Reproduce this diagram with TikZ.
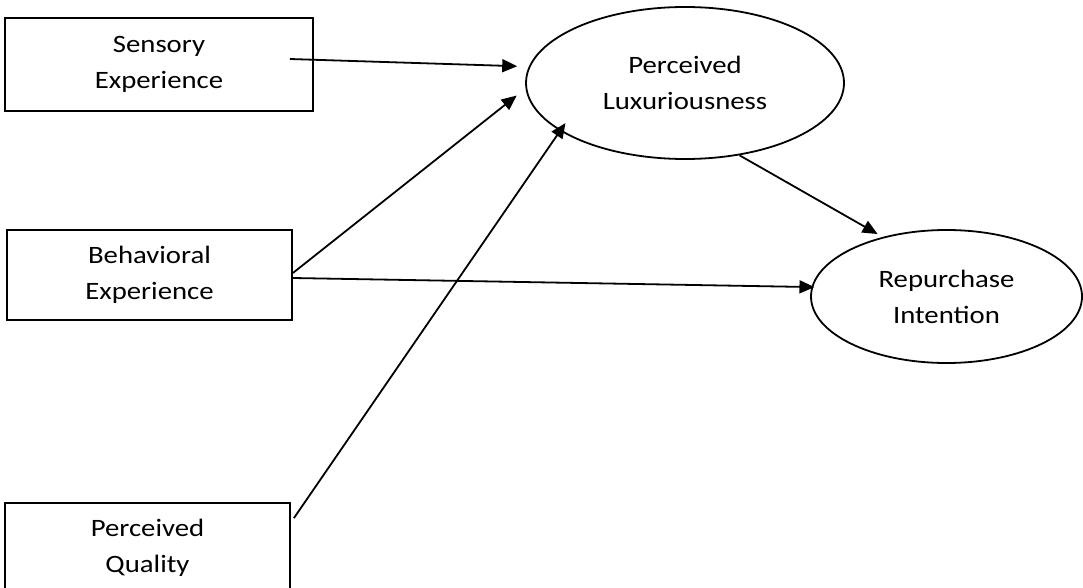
\documentclass[tikz,border=0pt]{standalone}
\usepackage{fontspec}
\setmainfont[FakeStretch=1.15]{Carlito}
\usepackage{tikz}
\usetikzlibrary{arrows.meta,shapes.geometric,calc}

\begin{document}
\begin{tikzpicture}[x=1pt,y=1pt,yscale=-1,xscale=1,
    ebox/.style={draw,line width=1.8pt,rectangle,inner sep=0pt,align=center,font=\fontsize{25}{36}\selectfont},
    eoval/.style={draw,line width=1.8pt,ellipse,inner sep=0pt,align=center,font=\fontsize{25}{36}\selectfont},
    link/.style={line width=1.8pt,-{Triangle[length=15pt,width=13pt]}}]
        \useasboundingbox (0,0) rectangle (1083,588);

        %Shape: Rectangle [sens]
        \node [ebox,minimum width=308,minimum height=93] (sens) at (159,64.5) {Sensory\\Experience};
        %Shape: Rectangle [behav]
        \node [ebox,minimum width=285,minimum height=90] (behav) at (149.5,275) {Behavioral\\Experience};
        %Shape: Rectangle [qual]
        \node [ebox,minimum width=285,minimum height=90] (qual) at (147.5,548) {Perceived\\Quality};

        %Shape: Ellipse [lux]
        \node [eoval,minimum width=318,minimum height=152] (lux) at (685,83) {Perceived\\Luxuriousness};
        %Shape: Ellipse [rep]
        \node [eoval,minimum width=271,minimum height=133] (rep) at (946.5,296.5) {Repurchase\\Intention};

        %Straight Lines [sens -> lux]
        \draw [link,shorten >=11.6pt] ($(sens.east)+(-24,-5.5)$) -- (lux.174.3);
        %Straight Lines [behav -> lux]
        \draw [link,shorten >=11.3pt] ($(behav.east)+(0,-2)$) -- (lux.182.9);
        %Straight Lines [qual -> lux]
        \draw [link,shorten >=-9.6pt] ($(qual.north east)+(3,16)$) -- (lux.201.2);
        %Straight Lines [behav -> rep]
        \draw [link,shorten >=-3pt] ($(behav.east)+(0,3)$) -- (rep.176.3);
        %Straight Lines [lux -> rep]
        \draw [link,shorten >=5.8pt] (lux.307) -- (rep.137.8);

    \end{tikzpicture}
\end{document}
